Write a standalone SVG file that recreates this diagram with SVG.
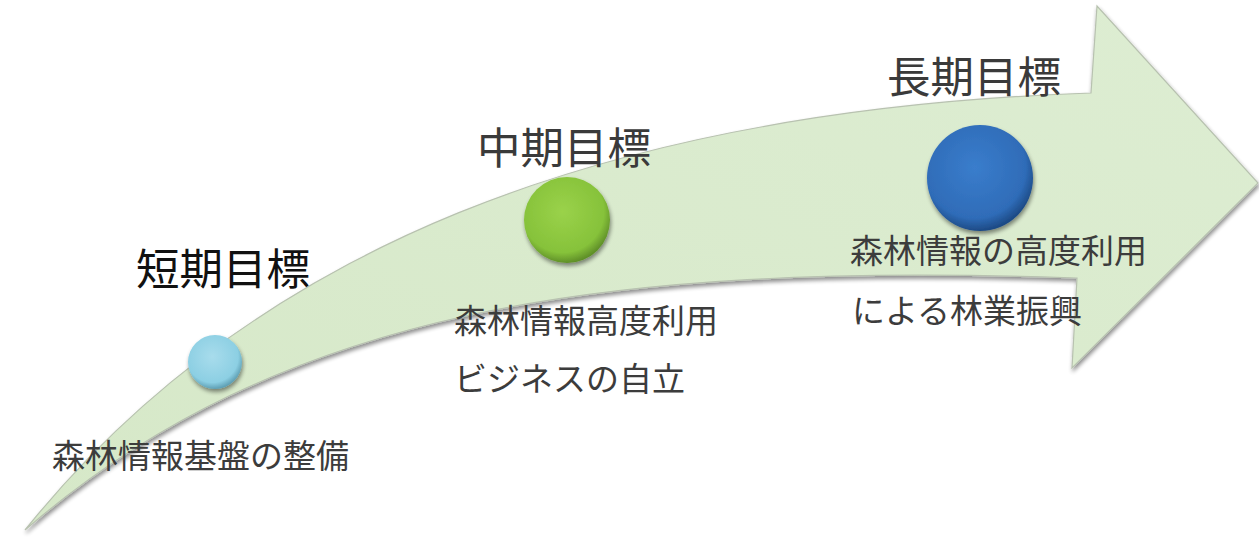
<svg xmlns="http://www.w3.org/2000/svg" width="1259" height="542" viewBox="0 0 1259 542">
<defs>
<style>
.lbl{font-family:"Noto Sans CJK JP","Noto Sans CJK SC",sans-serif;font-size:33px;fill:#3c3c3c;}
.ttl{font-family:"Noto Sans CJK JP","Noto Sans CJK SC",sans-serif;font-size:43.5px;fill:#3a3a3a;}
</style>
<linearGradient id="arrowFill" x1="0" y1="1" x2="1" y2="0">
<stop offset="0" stop-color="#d6e8c8"/>
<stop offset="1" stop-color="#ddedd2"/>
</linearGradient>
<radialGradient id="gLight" cx="0.45" cy="0.4" r="0.6">
<stop offset="0" stop-color="#a8dcec"/>
<stop offset="0.8" stop-color="#8ccfe3"/>
<stop offset="1" stop-color="#5e9fb4"/>
</radialGradient>
<radialGradient id="gGreen" cx="0.45" cy="0.4" r="0.6">
<stop offset="0" stop-color="#9ad24a"/>
<stop offset="0.8" stop-color="#86c23a"/>
<stop offset="1" stop-color="#5f8f28"/>
</radialGradient>
<radialGradient id="gBlue" cx="0.45" cy="0.4" r="0.6">
<stop offset="0" stop-color="#3a7dcc"/>
<stop offset="0.8" stop-color="#2f6cb8"/>
<stop offset="1" stop-color="#1d4a85"/>
</radialGradient>
<filter id="sh" x="-20%" y="-20%" width="150%" height="150%">
<feGaussianBlur in="SourceAlpha" stdDeviation="2"/>
<feOffset dx="1" dy="3"/>
<feComponentTransfer><feFuncA type="linear" slope="0.45"/></feComponentTransfer>
<feMerge><feMergeNode/><feMergeNode in="SourceGraphic"/></feMerge>
</filter>
</defs>
<rect width="1259" height="542" fill="#ffffff"/>
<g id="connectors">
<path id="arrow" d="M 25,530 C 250,250 600,110 1091,93 L 1097,6 L 1258,183 L 1072,368 L 1077,278 C 600,262 280,310 25,530 Z" fill="url(#arrowFill)" stroke="#b8c2b0" stroke-width="1.2" filter="url(#sh)"/>
</g>
<g id="node-short">
<circle cx="215" cy="362" r="27" fill="url(#gLight)" filter="url(#sh)"/>
<text class="ttl" x="136" y="285" style="fill:#111111">短期目標</text>
<text class="lbl" x="52" y="468">森林情報基盤の整備</text>
</g>
<g id="node-mid">
<circle cx="567" cy="220" r="43" fill="url(#gGreen)" filter="url(#sh)"/>
<text class="ttl" x="477" y="164">中期目標</text>
<text class="lbl" x="454" y="333">森林情報高度利用</text>
<text class="lbl" x="454" y="391">ビジネスの自立</text>
</g>
<g id="node-long">
<circle cx="980" cy="178" r="53" fill="url(#gBlue)" filter="url(#sh)"/>
<text class="ttl" x="887" y="93">長期目標</text>
<text class="lbl" x="850" y="263">森林情報の高度利用</text>
<text class="lbl" x="852" y="323">による林業振興</text>
</g>
</svg>
